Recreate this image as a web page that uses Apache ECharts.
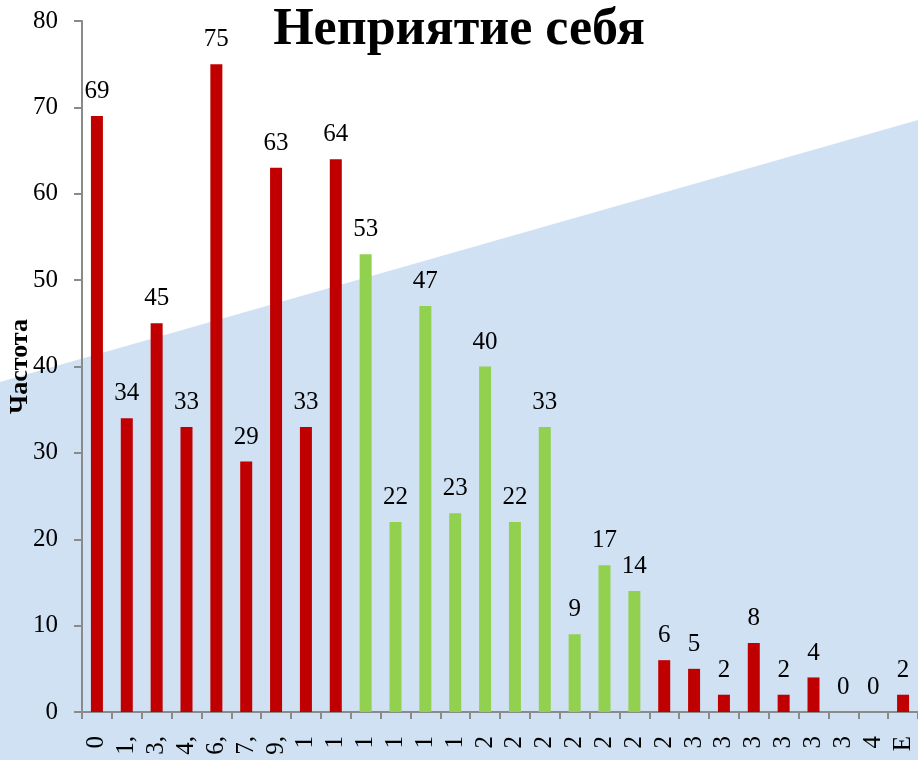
<!DOCTYPE html>
<html>
<head>
<meta charset="utf-8">
<script src="https://cdn.jsdelivr.net/npm/echarts@6/dist/echarts.min.js"></script>
<style>
html,body{margin:0;padding:0;background:#fff;}
#chart{width:918px;height:760px;}
</style>
</head>
<body>
<div id="chart"></div>
<script>
const titleText = 'Неприятие себя';
const yAxisName = 'Частота';
const categories = ['0','1,','3,','4,','6,','7,','9,','1','1','1','1','1','1','2','2','2','2','2','2','2','3','3','3','3','3','3','4','E'];
const values = [69,34,45,33,75,29,63,33,64,53,22,47,23,40,22,33,9,17,14,6,5,2,8,2,4,0,0,2];
const greenFrom = 9;
const greenTo = 18;
const yTicks = { min: 0, max: 80, interval: 10 };

const RED = '#C00000', GREEN = '#92D050', BLUE = '#CFE1F3';
const FONT = '"Liberation Serif", "Times New Roman", serif';

const chart = echarts.init(document.getElementById('chart'), null, {renderer: 'canvas'});
chart.setOption({
  backgroundColor: '#ffffff',
  animation: false,
  graphic: [{
    type: 'polygon',
    z: -10,
    silent: true,
    shape: { points: [[0, 382], [918, 120], [918, 760], [0, 760]] },
    style: { fill: BLUE }
  }],
  title: {
    text: titleText,
    left: 'center',
    top: 0,
    textStyle: { fontFamily: FONT, fontSize: 52, fontWeight: 'bold', color: '#000' }
  },
  grid: { left: 82, right: 0, top: 21, bottom: 48, containLabel: false, outerBoundsMode: 'none' },
  xAxis: {
    type: 'category',
    data: categories,
    axisLine: { lineStyle: { color: '#8a8a8a', width: 2 } },
    axisTick: { show: true, length: 7, lineStyle: { color: '#8a8a8a', width: 2 } },
    axisLabel: { rotate: 90, margin: 24, interval: 0, fontFamily: FONT, fontSize: 25, color: '#000' }
  },
  yAxis: {
    type: 'value',
    min: yTicks.min, max: yTicks.max, interval: yTicks.interval,
    name: yAxisName,
    nameLocation: 'middle',
    nameGap: 49,
    nameMoveOverlap: false,
    nameTextStyle: { fontFamily: FONT, fontSize: 26, fontWeight: 'bold', color: '#000' },
    axisLine: { show: true, lineStyle: { color: '#8a8a8a', width: 2 } },
    axisTick: { show: true, length: 8, lineStyle: { color: '#8a8a8a', width: 2 } },
    splitLine: { show: false },
    axisLabel: { margin: 24, fontFamily: FONT, fontSize: 25, color: '#000' }
  },
  series: [{
    type: 'bar',
    data: values,
    barWidth: 12,
    itemStyle: {
      color: p => (p.dataIndex >= greenFrom && p.dataIndex <= greenTo) ? GREEN : RED
    },
    label: {
      show: true,
      position: 'top',
      distance: 12,
      fontFamily: FONT, fontSize: 25, color: '#000'
    }
  }]
});
</script>
</body>
</html>
